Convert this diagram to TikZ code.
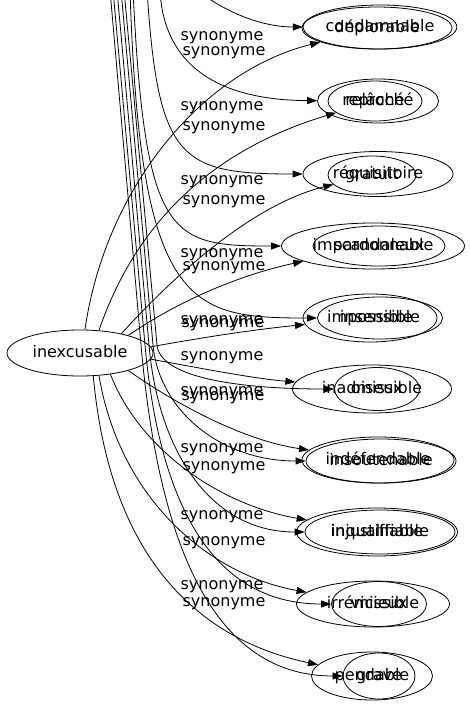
\documentclass[tikz,border=0pt]{standalone}
\usepackage{fontspec}
\setmainfont{DejaVu Sans}
\usetikzlibrary{shapes.geometric,arrows.meta}

\begin{document}
\begin{tikzpicture}[x=1pt,y=-1pt]
\tikzstyle{every node}+=[inner sep=0pt, font=\fontsize{16}{19}\selectfont]
\tikzstyle{word}=[draw=black, ellipse, line width=0.8pt, text height=11.5pt, text depth=3.5pt]
\tikzstyle{syn}=[draw=black, line width=0.8pt, -{Triangle[length=10pt,width=7pt]}]
\useasboundingbox (0,0) rectangle (470,707);
\clip (0,0) rectangle (470,707);
\fill [white] (0,0) rectangle (470,707);
% centre word
\node [word, minimum width=146pt, minimum height=46pt] (inexcusable) at (80,353) {inexcusable};
% word pairs on the right
\node [word, minimum width=152pt, minimum height=44pt] (condamnable) at (380,27) {condamnable};
\node [word, minimum width=150pt, minimum height=42pt] (deplorable) at (377,28) {déplorable};
\node [word, minimum width=121pt, minimum height=44pt] (reproche) at (378,101) {reproché};
\node [word, minimum width=94pt, minimum height=40pt] (relache) at (375,101) {relâché};
\node [word, minimum width=150pt, minimum height=45pt] (requisitoire) at (378,174) {réquisitoire};
\node [word, minimum width=88pt, minimum height=38pt] (gratuit) at (372,175) {gratuit};
\node [word, minimum width=183pt, minimum height=46pt] (impardonnable) at (373,246) {impardonnable};
\node [word, minimum width=132pt, minimum height=40pt] (scandaleux) at (379,246) {scandaleux};
\node [word, minimum width=134pt, minimum height=48pt] (impossible) at (370,318) {impossible};
\node [word, minimum width=125pt, minimum height=42pt] (insensible) at (380,318) {insensible};
\node [word, minimum width=159pt, minimum height=48pt] (inadmissible) at (372,389) {inadmissible};
\node [word, minimum width=85pt, minimum height=43pt] (oiseux) at (377,389) {oiseux};
\node [word, minimum width=152pt, minimum height=46pt] (indefendable) at (378,460) {indéfendable};
\node [word, minimum width=150pt, minimum height=44pt] (insoutenable) at (381,461) {insoutenable};
\node [word, minimum width=161pt, minimum height=48pt] (injustifiable) at (377,532) {injustifiable};
\node [word, minimum width=150pt, minimum height=44pt] (inqualifiable) at (380,532) {inqualifiable};
\node [word, minimum width=153pt, minimum height=46pt] (irremissible) at (373,604) {irrémissible};
\node [word, minimum width=95pt, minimum height=45pt] (vicieux) at (379,604) {vicieux};
\node [word, minimum width=121pt, minimum height=48pt] (pendable) at (372,676) {pendable};
\node [word, minimum width=72pt, minimum height=46pt] (grave) at (379,676) {grave};
% free ends above the picture
\coordinate (top1) at (180,-25);
\coordinate (top2) at (160,-10);
\coordinate (top3) at (147,-10);
\coordinate (top4) at (133,-10);
\coordinate (top5) at (130,-10);
\coordinate (top6) at (124,-10);
\coordinate (top7) at (121,-10);
\coordinate (top8) at (117,-10);
\coordinate (top9) at (113,-10);
\coordinate (top10) at (110,-10);
% edges from inexcusable
\draw [syn] (inexcusable.78) .. controls (105,190) and (200,72) .. (deplorable);
\draw [syn] (inexcusable.50) .. controls (130,240) and (195,155) .. (relache);
\draw [syn] (inexcusable.25) .. controls (170,280) and (250,205) .. (gratuit);
\draw [syn] (inexcusable.20) .. controls (180,300) and (240,275) .. (impardonnable);
\draw [syn] (inexcusable.5) .. controls (200,338) and (250,330) .. (impossible);
\draw [syn] (inexcusable.-5) .. controls (200,368) and (250,378) .. (inadmissible);
\draw [syn] (inexcusable.-20) .. controls (170,400) and (240,440) .. (indefendable);
\draw [syn] (inexcusable.-35) .. controls (140,450) and (220,505) .. (injustifiable);
\draw [syn] (inexcusable.-50) .. controls (120,500) and (210,575) .. (irremissible);
\draw [syn] (inexcusable.-60) .. controls (110,560) and (200,640) .. (pendable);
% edges coming from above
\draw [syn] (top1) .. controls (215,10) and (260,27) .. (condamnable);
\draw [syn] (top2) .. controls (163,55) and (205,100) .. (reproche);
\draw [syn] (top3) .. controls (158,160) and (180,174) .. (requisitoire);
\draw [syn] (top4) .. controls (145,240) and (170,246) .. (impardonnable);
\draw [syn] (top5) .. controls (140,310) and (190,318) .. (insensible);
\draw [syn] (top6) -- (157,345) .. controls (160,378) and (240,389) .. (oiseux);
\draw [syn] (top7) -- (153,345) .. controls (159,410) and (220,461) .. (insoutenable);
\draw [syn] (top8) -- (149,345) .. controls (158,450) and (210,532) .. (inqualifiable);
\draw [syn] (top9) -- (145,345) .. controls (159,500) and (210,604) .. (vicieux);
\draw [syn] (top10) -- (141,345) .. controls (160,560) and (220,676) .. (grave);
% edge labels
\node (lab1) at (222,38) {synonyme};
\node (lab2) at (224,53) {synonyme};
\node (lab3) at (222,108) {synonyme};
\node (lab4) at (224,128) {synonyme};
\node (lab5) at (222,182) {synonyme};
\node (lab6) at (224,202) {synonyme};
\node (lab7) at (222,255) {synonyme};
\node (lab8) at (224,268) {synonyme};
\node (lab9) at (222,322) {synonyme};
\node (lab10) at (223,325) {synonyme};
\node (lab11) at (222,358) {synonyme};
\node (lab12) at (222,393) {synonyme};
\node (lab13) at (223,398) {synonyme};
\node (lab14) at (222,450) {synonyme};
\node (lab15) at (224,468) {synonyme};
\node (lab16) at (222,517) {synonyme};
\node (lab17) at (224,543) {synonyme};
\node (lab18) at (222,587) {synonyme};
\node (lab19) at (224,604) {synonyme};
\end{tikzpicture}
\end{document}
